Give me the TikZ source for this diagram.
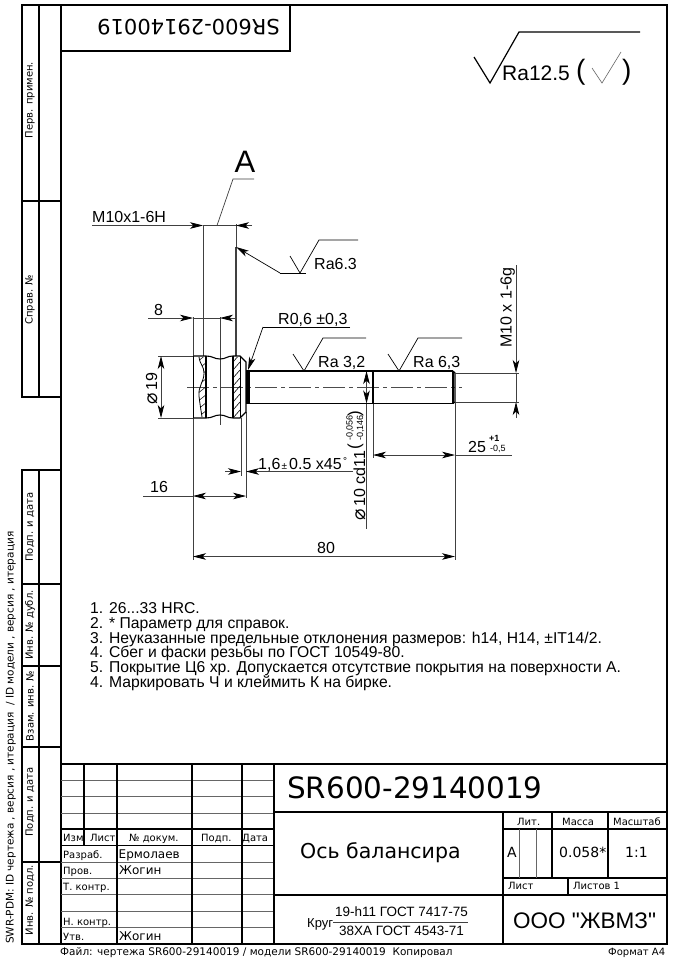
\documentclass[tikz,border=0pt]{standalone}
\usepackage{fontspec}
\setmainfont{Liberation Sans}
\newfontfamily\vrd{DejaVu Sans}
\newfontfamily\lib{Liberation Sans}
\usetikzlibrary{arrows.meta}
\tikzset{
  framel/.style={line width=1.4pt,black},
  rowl/.style={line width=1pt,black!60},
  thickl/.style={line width=1.7pt,black},
  midl/.style={line width=1.1pt,black},
  diml/.style={line width=.7pt,black!75},
  axisl/.style={line width=.7pt,black!70,dash pattern=on 22pt off 4pt on 4pt off 4pt},
  tipb/.style={{Stealth[length=13pt,width=6.5pt,inset=3.5pt,black]}-},
  tipe/.style={-{Stealth[length=13pt,width=6.5pt,inset=3.5pt,black]}},
  txt/.style={inner sep=0pt,anchor=base west,font=\fontsize{16}{16}\selectfont},
  note/.style={inner sep=0pt,anchor=base west,font=\fontsize{15.7}{15.7}\selectfont},
  tb/.style={inner sep=0pt,anchor=base west,font=\vrd\fontsize{10}{10}\selectfont},
  tbfile/.style={inner sep=0pt,anchor=base west,font=\vrd\fontsize{10.5}{10.5}\selectfont},
  tbm/.style={inner sep=0pt,anchor=base west,font=\vrd\fontsize{12}{12}\selectfont},
  tbl/.style={inner sep=0pt,anchor=base west,font=\vrd\fontsize{14}{14}\selectfont},
  side/.style={inner sep=0pt,anchor=center,rotate=90,font=\vrd\fontsize{10}{10}\selectfont},
  small/.style={inner sep=0pt,anchor=base west,font=\fontsize{9}{9}\selectfont},
}
\newcommand{\phisign}{{\vrd\fontsize{19}{19}\selectfont ⌀}}
\begin{document}
\begin{tikzpicture}[x=1pt,y=-1pt]
\useasboundingbox (0,0) rectangle (683,960);
\fill[white] (0,0) rectangle (683,960);
% frame
\draw[framel] (61,5) rectangle (667,944);
\draw[framel] (22,5) rectangle (61,397);
\draw[framel] (22,470) rectangle (61,944);
\draw[framel] (39,5) -- (39,397);
\draw[framel] (39,470) -- (39,944);
\foreach \yy in {201} \draw[framel] (22,\yy) -- (61,\yy);
\foreach \yy in {584,666,747,862} \draw[framel] (22,\yy) -- (61,\yy);
\draw[framel] (61,51) -- (290,51) -- (290,5);
% title block rows
\foreach \yy in {780,796,813,862,878,894,911,927} \draw[rowl] (61,\yy) -- (274,\yy);
\draw[framel] (61,764) -- (667,764);
\draw[framel] (61,829) -- (274,829);
\draw[framel] (61,845.5) -- (274,845.5);
\draw[framel] (84,764) -- (84,845.5);
\draw[framel] (117,764) -- (117,944);
\draw[framel] (192,764) -- (192,944);
\draw[framel] (242,764) -- (242,944);
\draw[framel] (274,764) -- (274,944);
\draw[framel] (274,812) -- (667,812);
\draw[framel] (274,895) -- (667,895);
\draw[framel] (503,812) -- (503,944);
\draw[framel] (552,812) -- (552,878);
\draw[framel] (608,812) -- (608,878);
\draw[framel] (503,829) -- (667,829);
\draw[framel] (503,878) -- (667,878);
\draw[framel] (568,878) -- (568,895);
\draw[rowl] (519.5,829) -- (519.5,878);
\draw[rowl] (536,829) -- (536,878);
% side labels
\node[side] (s1) at (30,100) {Перв. примен.};
\node[side] (s2) at (30,300) {Справ. №};
\node[side] (s3) at (30,527) {Подп. и дата};
\node[side] (s4) at (30,625) {Инв. № дубл.};
\node[side] (s5) at (30,706) {Взам. инв. №};
\node[side] (s6) at (30,802) {Подп. и дата};
\node[side] (s7) at (30,900) {Инв. № подл.};
\node[inner sep=0pt,anchor=base west,rotate=90,font=\vrd\fontsize{10.5}{10.5}\selectfont] (swr) at (13.5,944) {SWR-PDM: ID чертежа , версия , итерация\ \ / ID модели , версия , итерация};
% title block text
\node[inner sep=0pt,anchor=base west,rotate=180,font=\vrd\fontsize{21}{21}\selectfont] (topno) at (280,20) {SR600-29140019};
\node[inner sep=0pt,anchor=base west,font=\vrd\fontsize{29.4}{29.4}\selectfont] (mainno) at (287,798) {SR600-29140019};
\node[inner sep=0pt,anchor=base west,font=\vrd\fontsize{20.5}{20.5}\selectfont] (nm) at (300,858) {Ось балансира};
\node[tb] (h1) at (63,841) {Изм};
\node[tb] (h2) at (90,841) {Лист};
\node[tb] (h3) at (129,841) {№ докум.};
\node[tb] (h4) at (201,841) {Подп.};
\node[tb] (h5) at (242,841) {Дата};
\node[tb] (r1) at (63,858) {Разраб.};
\node[tb] (r2) at (63,874) {Пров.};
\node[tb] (r3) at (63,890.5) {Т. контр.};
\node[tb] (r4) at (63,925) {Н. контр.};
\node[tb] (r5) at (63,940) {Утв.};
\node[tbm] (n1) at (118.5,858) {Ермолаев};
\node[tbm] (n2) at (119,874) {Жогин};
\node[tbm] (n3) at (119,940) {Жогин};
\node[tb] (c1) at (517,825.5) {Лит.};
\node[tb] (c2) at (562,825.5) {Масса};
\node[tb] (c3) at (613,825.5) {Масштаб};
\node[tbl] (c4) at (507,857) {А};
\node[tbl] (c5) at (559,857) {0.058*};
\node[tbl] (c6) at (625,857) {1:1};
\node[tb] (c7) at (508,889) {Лист};
\node[tb] (c8) at (573,889) {Листов 1};
\node[inner sep=0pt,anchor=base west,font=\fontsize{13}{13}\selectfont] (kr) at (307,927) {Круг};
\node[inner sep=0pt,anchor=base west,font=\fontsize{13.5}{13.5}\selectfont] (kr1) at (335,916) {19-h11 ГОСТ 7417-75};
\node[inner sep=0pt,anchor=base west,font=\fontsize{13.5}{13.5}\selectfont] (kr2) at (339,935.5) {38ХА ГОСТ 4543-71};
\draw[diml] (333,922.5) -- (468,922.5);
\node[inner sep=0pt,anchor=base west,font=\lib\fontsize{22.5}{22.5}\selectfont] (ooo) at (513,928) {ООО "ЖВМЗ"};
\node[tbfile] (file) at (60,955) {Файл: чертежа SR600-29140019 / модели SR600-29140019\ \ Копировал};
\node[tb] (fmt) at (608,955) {Формат А4};
% general roughness
\draw[line width=1.2pt] (474,57) -- (490,83) -- (519,32) -- (640,32);
\node[inner sep=0pt,anchor=base west,font=\fontsize{21}{21}\selectfont] (ra) at (502,81) {Ra12.5};
\node[inner sep=0pt,anchor=base west,font=\fontsize{28}{28}\selectfont] (pl) at (576,80) {(};
\node[inner sep=0pt,anchor=base west,font=\fontsize{28}{28}\selectfont] (pr) at (622,80) {)};
\draw[line width=.6pt,black!60] (592,68) -- (602,83) -- (621,52);
% part: extension lines under outlines
\draw[diml] (193,317) -- (193,560);
\draw[diml] (203,225) -- (203,356);
\draw[diml] (236,224) -- (236,247);
\draw[line width=1.2pt,black!75] (236,247) -- (236,356);
\draw[diml] (220,317) -- (220,425);
\draw[diml] (241,418) -- (241,476);
\draw[diml] (246,412) -- (246,498);
\draw[diml] (158,356) -- (193,356);
\draw[diml] (158,418) -- (193,418);
\draw[axisl] (187,387) -- (462,387);
% head
\draw[thickl] (193.5,356) -- (193.5,418);
\draw[midl] (193.5,356) -- (206,356) .. controls (213,356) and (214,359) .. (220,359) .. controls (226,359) and (227,356) .. (233,356) -- (240,356) -- (246,362) -- (246,412) -- (240,418) -- (233,418) .. controls (227,418) and (226,415) .. (220,415) .. controls (214,415) and (213,418) .. (206,418) -- (193.5,418);
\draw[thickl] (206,356) -- (206,418);
\draw[midl] (233,356) -- (233,418);
\draw[midl] (240.5,356) -- (240.5,418);
\draw[line width=.8pt] (199,357) .. controls (200,365) and (204,366) .. (204,373) .. controls (204,382) and (198,386) .. (199,396) .. controls (200,405) and (201,410) .. (202,417);
\begin{scope}
\clip (199,357) .. controls (200,365) and (204,366) .. (204,373) .. controls (204,382) and (198,386) .. (199,396) .. controls (200,405) and (201,410) .. (202,417) -- (206,417) -- (206,357) -- cycle;
\foreach \yy in {362,370,...,426} \draw[line width=.5pt] (197,\yy) -- (207,\yy-8);
\end{scope}
\begin{scope}
\clip (233,357) rectangle (240,417);
\foreach \yy in {362,370,...,426} \draw[line width=.6pt] (233,\yy) -- (240,\yy-8);
\end{scope}
% shaft
\fill (246,370) rectangle (249.5,404);
\draw[thickl] (249,371) -- (453,371);
\draw[thickl] (249,403.5) -- (453,403.5);
\draw[midl] (373,371) -- (373,403.5);
\draw[thickl] (453,371) -- (453,403.5);
\draw[midl] (453,371) -- (455,373) -- (455,402) -- (453,403.5);
% dim: M10x1-6H
\draw[diml,tipe] (92,225.5) -- (203,225.5);
\draw[diml,tipe] (252,225.5) -- (236,225.5);
\draw[diml] (203,225.5) -- (236,225.5);
\node[txt] (m10h) at (92,222) {M10x1-6H};
\draw[diml] (217,225.5) -- (233,179) -- (254,179);
\node[inner sep=0pt,anchor=base west,font=\fontsize{31}{31}\selectfont] (lA) at (234.5,172.5) {A};
% Ra6.3
\coordinate (ra63a) at (236,247);
\draw[diml,black,tipe] (280,273) -- (ra63a);
\draw[diml,black] (280,273) -- (306,273);
\draw[diml,black] (290,256) -- (300,273) -- (319,240) -- (358,240);
\node[txt] (ra63) at (314,269) {Ra6.3};
% 8
\draw[diml,tipe] (148,318) -- (193,318);
\draw[diml,tipe] (236,318) -- (220,318);
\draw[diml] (193,318) -- (220,318);
\node[txt] (l8) at (154,315) {8};
% R
\node[txt] (lr) at (278,324) {R0,6 ±0,3};
\draw[diml,black] (350,327) -- (263,327);
\draw[diml,black,tipe] (263,327) -- (248,370);
% phi 19
\draw[diml,tipb] (161,356) -- (161,387);
\draw[diml,tipe] (161,387) -- (161,418);
\node[txt,rotate=90] (p19) at (157,405) {\phisign\,19};
% Ra 3,2 and Ra 6,3
\draw[diml,black] (293,354) -- (304,371) -- (323,338) -- (366,338);
\node[txt] (ra32) at (318,367) {Ra 3,2};
\draw[diml,black] (388,354) -- (399,371) -- (418,338) -- (462,338);
\node[txt] (ra632) at (413,367) {Ra 6,3};
% M10 x 1-6g
\draw[diml,tipe] (516,265) -- (516,373);
\draw[diml,tipe] (516,418) -- (516,402);
\draw[diml] (516,373) -- (516,402);
\draw[diml] (455,373) -- (519,373);
\draw[diml] (455,402) -- (519,402);
\node[txt,rotate=90] (m10g) at (511.5,348) {M10 x 1-6g};
% phi 10
\draw[diml,tipb] (366.5,371) -- (366.5,387);
\draw[diml,tipe] (366.5,387) -- (366.5,403.5);
\draw[diml] (366.5,403.5) -- (366.5,529);
\node[txt,rotate=90] (p10) at (365,521) {\phisign\,10 cd11};
\node[small,rotate=90] (t1) at (352.5,441) {-0,056};
\node[small,rotate=90] (t2) at (363,441) {-0,146};
\node[inner sep=0pt,anchor=center,rotate=90,font=\fontsize{17}{17}\selectfont] (t3) at (355.5,446.5) {(};
\node[inner sep=0pt,anchor=center,rotate=90,font=\fontsize{17}{17}\selectfont] (t4) at (355.5,414) {)};
% 25
\draw[diml] (373,403.5) -- (373,458);
\draw[diml] (455,402) -- (455,560);
\draw[diml,tipb] (373,455) -- (414,455);
\draw[diml,tipe] (414,455) -- (455,455);
\draw[diml] (455,455) -- (512,455);
\node[txt] (l25) at (468,452) {25};
\node[small] (t5) at (489,441.5) {\textbf{+1}};
\node[small] (t6) at (490,451.5) {-0,5};
% 1,6
\draw[diml,tipe] (225,471.5) -- (241,471.5);
\draw[diml,tipe] (353,471.5) -- (246,471.5);
\node[txt] (l16a) at (258,469) {1,6};
\node[inner sep=0pt,anchor=base west,font=\fontsize{10}{10}\selectfont] (pm) at (281.5,469) {±};
\node[txt] (l16b) at (289,469) {0.5 x45};
\node[inner sep=0pt,anchor=base west,font=\fontsize{10}{10}\selectfont] (deg) at (343,464) {°};
% 16
\draw[diml] (143,496) -- (193,496);
\draw[diml,tipb] (193,496) -- (220,496);
\draw[diml,tipe] (220,496) -- (246,496);
\node[txt] (l16) at (150,492) {16};
% 80
\draw[diml,tipb] (193,556.5) -- (324,556.5);
\draw[diml,tipe] (324,556.5) -- (455,556.5);
\node[txt] (l80) at (317,553) {80};
% notes
\node[note] (a1) at (90,613) {1. 26...33 HRC.};
\node[note] (a2) at (90,628) {2. * Параметр для справок.};
\node[note] (a3) at (90,643) {3. Неуказанные предельные отклонения размеров: h14, H14, ±IT14/2.};
\node[note] (a4) at (90,657.5) {4. Сбег и фаски резьбы по ГОСТ 10549-80.};
\node[note] (a5) at (90,672.5) {5. Покрытие Ц6 хр. Допускается отсутствие покрытия на поверхности А.};
\node[note] (a6) at (90,687.5) {4. Маркировать Ч и клеймить К на бирке.};
\end{tikzpicture}
\end{document}
